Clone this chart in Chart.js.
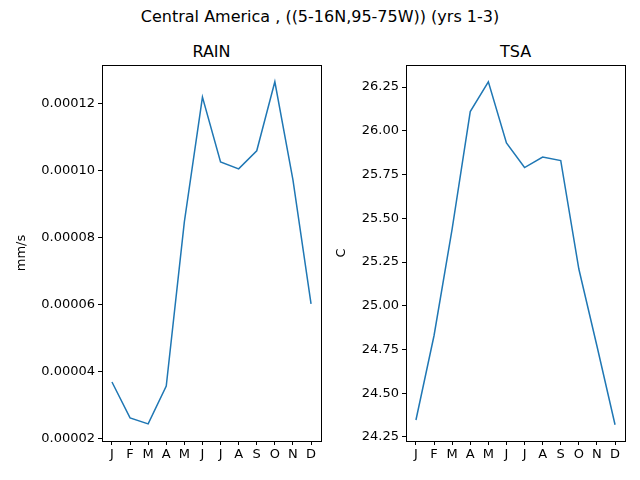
<!DOCTYPE html>
<html><head><meta charset="utf-8">
<script src="https://cdn.jsdelivr.net/npm/chart.js@4"></script>
<style>
body{margin:0;width:640px;height:480px;position:relative;background:#fff;font-family:"DejaVu Sans",sans-serif;overflow:hidden}
.t{position:absolute;font-size:16px;color:#000;text-align:center;white-space:nowrap}
canvas{position:absolute;top:0}
</style></head><body>
<div class="t" style="left:0;width:640px;top:7px">Central America , ((5-16N,95-75W)) (yrs 1-3)</div>
<div class="t" style="left:102px;width:219px;top:42px">RAIN</div>
<div class="t" style="left:406px;width:219px;top:42px">TSA</div>
<div style="position:absolute;left:0;top:0;width:330px;height:480px"><canvas id="c1"></canvas></div>
<div style="position:absolute;left:330px;top:0;width:310px;height:480px"><canvas id="c2"></canvas></div>
<script>
const months = ["J","F","M","A","M","J","J","A","S","O","N","D"];
const rain = [0.0000370,0.0000263,0.0000245,0.0000358,0.0000848,0.0001220,0.0001027,0.0001006,0.0001060,0.0001266,0.0000973,0.0000603];
const tsa = [24.347,24.83,25.44,26.11,26.28,25.93,25.79,25.85,25.83,25.21,24.77,24.32];
const rainTicks = [0.00002,0.00004,0.00006,0.00008,0.00010,0.00012];
const tsaTicks = [24.25,24.5,24.75,25.0,25.25,25.5,25.75,26.0,26.25];

const box = {id:'box',afterDraw(c){const a=c.chartArea,x=c.ctx;x.save();x.strokeStyle='#000';x.lineWidth=1;x.strokeRect(a.left+0.5,a.top+0.5,a.right-a.left,a.bottom-a.top);x.restore();}};
function make(id,data,ticks,min,max,lp,yw,rp,title,fmt){
  new Chart(document.getElementById(id),{type:'line',
    data:{datasets:[{data:data.map((v,i)=>({x:i,y:v})),borderColor:'#1f77b4',borderWidth:1.5,pointRadius:0,tension:0}]},
    options:{responsive:true,maintainAspectRatio:false,animation:false,
      layout:{padding:{top:65,right:rp,left:lp,bottom:0}},
      plugins:{legend:{display:false},tooltip:{enabled:false}},
      scales:{
        x:{type:'linear',min:-0.55,max:11.55,
          afterBuildTicks:s=>{s.ticks=months.map((m,i)=>({value:i}));},
          afterFit:s=>{s.height=39;},
          ticks:{callback:(v)=>months[v],color:'#000',font:{family:'DejaVu Sans',size:13},maxRotation:0,autoSkip:false,padding:2},
          grid:{drawOnChartArea:false,tickLength:4,color:'#000'},border:{display:false}},
        y:{min:min,max:max,
          afterBuildTicks:s=>{s.ticks=ticks.map(v=>({value:v}));},
          afterFit:s=>{s.width=yw;},
          title:{display:true,text:title,color:'#000',font:{family:'DejaVu Sans',size:13},padding:{bottom:6}},
          ticks:{callback:fmt,color:'#000',font:{family:'DejaVu Sans',size:13},padding:3},
          grid:{drawOnChartArea:false,tickLength:4,color:'#000'},border:{display:false}}
      }},plugins:[box]});
}
make('c1',rain,rainTicks,0.0000194,0.0001316,10,92,9,'mm/s',v=>v.toFixed(5));
make('c2',tsa,tsaTicks,24.227,26.376,0,76,15,'C',v=>v.toFixed(2));
</script></body></html>
